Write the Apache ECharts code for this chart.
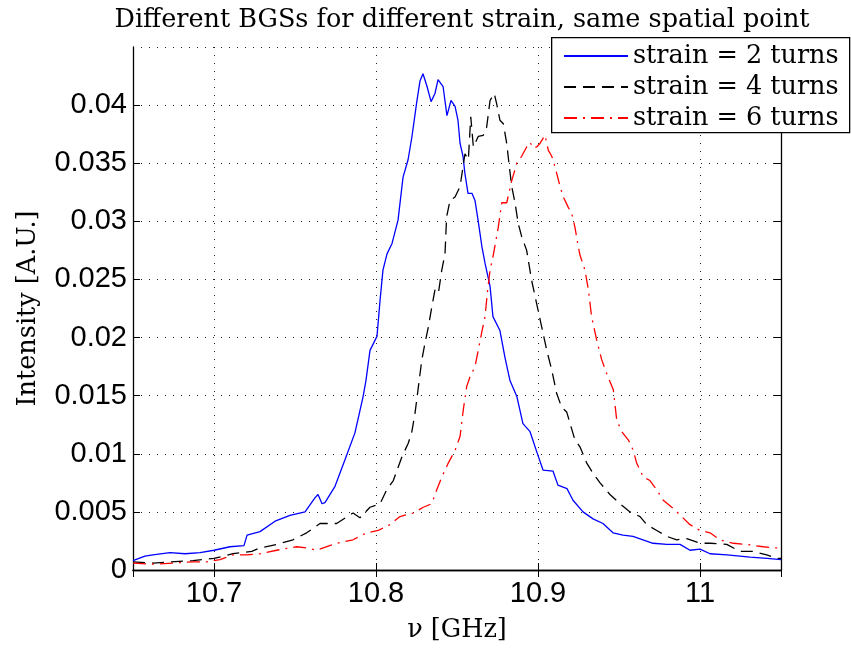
<!DOCTYPE html>
<html>
<head>
<meta charset="utf-8">
<script src="https://cdn.jsdelivr.net/npm/echarts@6/dist/echarts.min.js"></script>
<style>html,body{margin:0;padding:0;background:#fff;}#c{width:851px;height:648px;}</style>
</head>
<body>
<div id="c"></div>
<script>
// ---- data ----
const seriesNames = ['strain = 2 turns', 'strain = 4 turns', 'strain = 6 turns'];
const yTickLabels = ['0','0.005','0.01','0.015','0.02','0.025','0.03','0.035','0.04'];
const xTickLabels = ['10.7','10.8','10.9','11'];

const freq2 = [10.6500,10.6574,10.6623,10.6728,10.6821,10.6914,10.7000,10.7099,10.7185,10.7204,10.7284,10.7377,10.7469,10.7562,10.7623,10.7642,10.7667,10.7685,10.7747,10.7809,10.7870,10.7920,10.7938,10.7963,10.8006,10.8025,10.8043,10.8068,10.8099,10.8136,10.8167,10.8198,10.8222,10.8253,10.8272,10.8290,10.8315,10.8340,10.8364,10.8383,10.8414,10.8438,10.8463,10.8488,10.8506,10.8519,10.8537,10.8549,10.8568,10.8593,10.8611,10.8630,10.8654,10.8673,10.8704,10.8722,10.8765,10.8796,10.8827,10.8870,10.8907,10.8951,10.8994,10.9031,10.9093,10.9123,10.9179,10.9216,10.9278,10.9340,10.9401,10.9463,10.9525,10.9586,10.9648,10.9710,10.9796,10.9877,10.9938,11.0000,11.0062,11.0167,11.0309,11.0414,11.0500];
const int2  = [0.0008,0.0012,0.0013,0.0015,0.0014,0.0015,0.0017,0.0020,0.0021,0.0030,0.0033,0.0042,0.0047,0.0050,0.0062,0.0065,0.0057,0.0058,0.0072,0.0095,0.0118,0.0149,0.0163,0.0189,0.0201,0.0232,0.0258,0.0272,0.0281,0.0301,0.0338,0.0353,0.0373,0.0404,0.0421,0.0427,0.0416,0.0403,0.0410,0.0422,0.0416,0.0391,0.0404,0.0399,0.0387,0.0367,0.0356,0.0341,0.0324,0.0324,0.0318,0.0301,0.0278,0.0264,0.0244,0.0218,0.0206,0.0183,0.0163,0.0149,0.0126,0.0119,0.0101,0.0086,0.0085,0.0073,0.0070,0.0060,0.0050,0.0044,0.0040,0.0032,0.0030,0.0029,0.0026,0.0023,0.0022,0.0022,0.0017,0.0018,0.0014,0.0013,0.0011,0.0010,0.0009];

const freq4 = [10.6500,10.6623,10.6728,10.6870,10.7000,10.7117,10.7233,10.7284,10.7387,10.7488,10.7572,10.7654,10.7757,10.7858,10.7901,10.7963,10.8025,10.8066,10.8107,10.8159,10.8199,10.8220,10.8241,10.8262,10.8282,10.8302,10.8323,10.8344,10.8364,10.8385,10.8406,10.8426,10.8436,10.8457,10.8488,10.8519,10.8549,10.8570,10.8585,10.8601,10.8631,10.8662,10.8683,10.8704,10.8730,10.8745,10.8765,10.8786,10.8807,10.8823,10.8838,10.8858,10.8878,10.8899,10.8930,10.8961,10.8992,10.9023,10.9054,10.9085,10.9115,10.9146,10.9177,10.9198,10.9228,10.9259,10.9301,10.9341,10.9383,10.9444,10.9506,10.9568,10.9630,10.9671,10.9733,10.9794,10.9856,10.9918,11.0000,11.0062,11.0165,11.0247,11.0327,11.0412,11.0473,11.0500];
const int4  = [0.0007,0.0006,0.0007,0.0008,0.0010,0.0014,0.0016,0.0019,0.0022,0.0026,0.0032,0.0040,0.0040,0.0049,0.0045,0.0054,0.0057,0.0069,0.0077,0.0097,0.0109,0.0118,0.0135,0.0158,0.0180,0.0195,0.0209,0.0226,0.0241,0.0238,0.0258,0.0272,0.0304,0.0318,0.0321,0.0330,0.0358,0.0353,0.0390,0.0364,0.0373,0.0374,0.0381,0.0404,0.0410,0.0401,0.0387,0.0384,0.0367,0.0347,0.0330,0.0316,0.0298,0.0287,0.0275,0.0249,0.0229,0.0209,0.0189,0.0172,0.0152,0.0140,0.0136,0.0126,0.0112,0.0106,0.0092,0.0083,0.0075,0.0065,0.0057,0.0050,0.0046,0.0039,0.0034,0.0029,0.0026,0.0027,0.0023,0.0023,0.0022,0.0016,0.0016,0.0013,0.0010,0.0010];

const freq6 = [10.6500,10.6623,10.6747,10.6870,10.6955,10.7037,10.7117,10.7202,10.7284,10.7387,10.7510,10.7572,10.7634,10.7757,10.7858,10.7943,10.8014,10.8086,10.8148,10.8230,10.8292,10.8344,10.8375,10.8406,10.8446,10.8488,10.8519,10.8539,10.8560,10.8580,10.8611,10.8631,10.8652,10.8673,10.8687,10.8704,10.8724,10.8755,10.8776,10.8807,10.8838,10.8869,10.8899,10.8930,10.8951,10.8971,10.8992,10.9012,10.9043,10.9064,10.9085,10.9105,10.9136,10.9156,10.9187,10.9208,10.9228,10.9249,10.9259,10.9290,10.9311,10.9331,10.9362,10.9393,10.9424,10.9465,10.9486,10.9517,10.9557,10.9588,10.9609,10.9650,10.9691,10.9733,10.9773,10.9835,10.9887,10.9938,11.0000,11.0062,11.0123,11.0206,11.0288,11.0391,11.0453,11.0500];
const int6  = [0.0006,0.0005,0.0006,0.0007,0.0007,0.0009,0.0013,0.0013,0.0014,0.0017,0.0020,0.0019,0.0017,0.0023,0.0026,0.0032,0.0034,0.0039,0.0046,0.0049,0.0054,0.0057,0.0069,0.0080,0.0092,0.0103,0.0115,0.0138,0.0158,0.0166,0.0175,0.0189,0.0204,0.0218,0.0238,0.0258,0.0271,0.0295,0.0316,0.0316,0.0335,0.0350,0.0356,0.0364,0.0368,0.0363,0.0364,0.0367,0.0374,0.0361,0.0356,0.0347,0.0330,0.0321,0.0312,0.0307,0.0295,0.0278,0.0271,0.0258,0.0241,0.0218,0.0198,0.0181,0.0169,0.0155,0.0129,0.0119,0.0112,0.0103,0.0092,0.0080,0.0077,0.0069,0.0060,0.0053,0.0046,0.0039,0.0034,0.0032,0.0026,0.0023,0.0022,0.0020,0.0019,0.0019];

function pairs(xs, ys) { return xs.map((x, i) => [x, ys[i]]); }

const serif = 'DejaVu Serif';
const sans = 'Liberation Sans';
const gridLine = { show: true, lineStyle: { color: '#222', width: 1, type: [1, 7] } };

const chart = echarts.init(document.getElementById('c'), null, { renderer: 'canvas' });
chart.setOption({
  animation: false,
  backgroundColor: '#fff',
  title: {
    text: 'Different BGSs for different strain, same spatial point',
    left: 457, top: 2, textAlign: 'center',
    textStyle: { fontFamily: serif, fontWeight: 'normal', fontSize: 25.5, color: '#000' }
  },
  grid: { left: 133, top: 47, right: 70, bottom: 78, containLabel: false },
  xAxis: [{
    type: 'value', min: 10.65, max: 11.05, splitNumber: 4,
    name: 'ν [GHz]', nameLocation: 'middle', nameGap: 47,
    nameTextStyle: { fontFamily: serif, fontSize: 25.5, color: '#000' },
    axisLine: { show: true, lineStyle: { color: '#000', width: 1.3 } },
    axisTick: { show: true, inside: true, length: 7, lineStyle: { color: '#000' } },
    axisLabel: { fontFamily: sans, fontSize: 29, color: '#000', margin: 9,
      showMinLabel: false, showMaxLabel: false,
      formatter: v => { const s = xTickLabels.find(t => Math.abs(parseFloat(t) - v) < 1e-6); return s || ''; } },
    splitLine: gridLine
  }, {
    type: 'value', position: 'top', min: 10.65, max: 11.05, splitNumber: 4,
    axisLine: { show: true, lineStyle: { color: '#000', width: 1.3 } },
    axisTick: { show: true, inside: true, length: 7, lineStyle: { color: '#000' } },
    axisLabel: { show: false }, splitLine: { show: false }
  }],
  yAxis: [{
    type: 'value', min: 0, max: 0.045, interval: 0.005,
    name: 'Intensity [A.U.]', nameLocation: 'middle', nameGap: 92,
    nameTextStyle: { fontFamily: serif, fontSize: 25.5, color: '#000' },
    axisLine: { show: true, lineStyle: { color: '#000', width: 1.3 } },
    axisTick: { show: true, inside: true, length: 7, lineStyle: { color: '#000' } },
    axisLabel: { fontFamily: sans, fontSize: 29, color: '#000', margin: 6, showMaxLabel: false,
      formatter: v => { const s = yTickLabels.find(t => Math.abs(parseFloat(t) - v) < 1e-9); return s || ''; } },
    splitLine: gridLine
  }, {
    type: 'value', position: 'right', min: 0, max: 0.045, interval: 0.005,
    axisLine: { show: true, lineStyle: { color: '#000', width: 1.3 } },
    axisTick: { show: true, inside: true, length: 7, lineStyle: { color: '#000' } },
    axisLabel: { show: false }, splitLine: { show: false }
  }],
  graphic: [{
    type: 'rect', z: 5, left: 551, top: 37,
    shape: { width: 298, height: 95 },
    style: { fill: '#fff', stroke: '#000', lineWidth: 1.3 }
  }],
  legend: {
    z: 6, orient: 'vertical', left: 558, top: 38, itemWidth: 64, itemHeight: 14, itemGap: 5,
    data: seriesNames,
    itemStyle: { opacity: 0 },
    textStyle: { fontFamily: serif, fontSize: 25.5, color: '#000', lineHeight: 25 }
  },
  series: [
    { name: seriesNames[0], type: 'line', data: pairs(freq2, int2), symbol: 'none', z: 3,
      lineStyle: { color: '#0000ff', width: 1.3, type: 'solid' }, itemStyle: { color: '#0000ff' } },
    { name: seriesNames[1], type: 'line', data: pairs(freq4, int4), symbol: 'none', z: 3,
      lineStyle: { color: '#000000', width: 1.3, type: [12, 7] }, itemStyle: { color: '#000000' } },
    { name: seriesNames[2], type: 'line', data: pairs(freq6, int6), symbol: 'none', z: 3,
      lineStyle: { color: '#ff0000', width: 1.3, type: [13, 6, 2, 6] }, itemStyle: { color: '#ff0000' } }
  ]
});
</script>
</body>
</html>
